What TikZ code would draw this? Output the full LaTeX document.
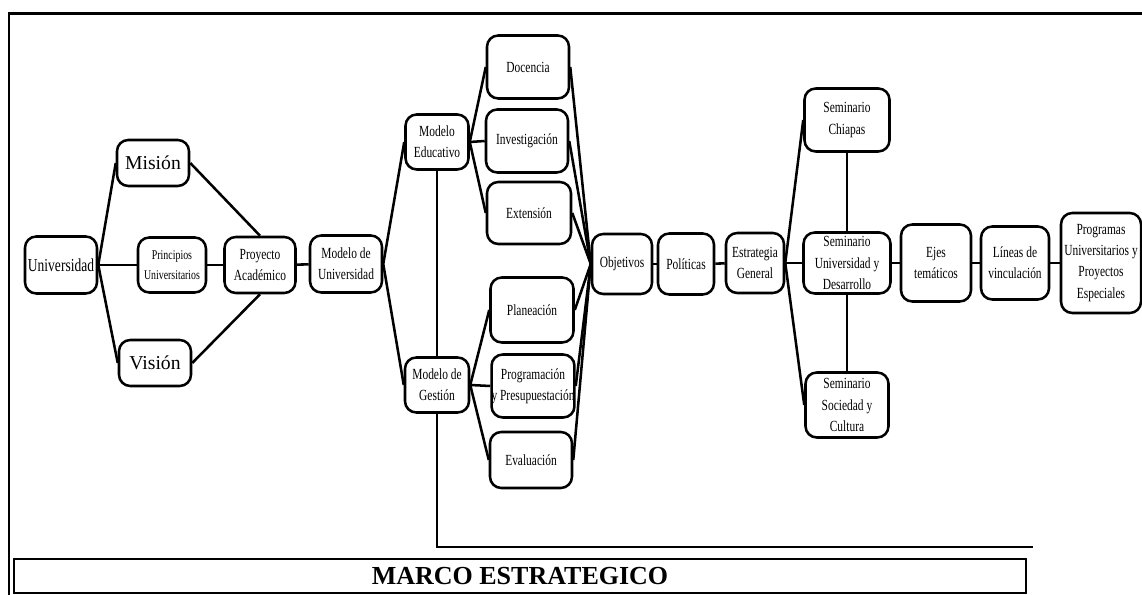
\documentclass[tikz,border=0pt]{standalone}
\usepackage{fontspec}
\setmainfont{Liberation Serif}[FakeStretch=0.74]
\newfontfamily\anchafont{Liberation Serif}
\begin{document}
\begin{tikzpicture}[line width=1.8pt,main box/.style={draw,rounded corners=8pt,align=center,inner sep=1pt,font=\fontsize{11}{15}\selectfont}]
        \useasboundingbox (0,0) rectangle (28.55,14.875);
        \draw[line width=2.1pt] (0.225,0) -- (0.225,14.54) -- (28.55,14.54);

        \node[main box, minimum width=1.8cm, minimum height=1.425cm, font=\fontsize{13}{15}\selectfont] at (1.525, 8.25) (univ) {Universidad};
        \node[main box, minimum width=1.8cm, minimum height=1.15cm, font=\anchafont\fontsize{14}{16}\selectfont] at (3.825, 10.8) (mision) {Misión};
        \node[main box, minimum width=1.8cm, minimum height=1.15cm, font=\anchafont\fontsize{14}{16}\selectfont] at (3.875, 5.8) (vision) {Visión};
        \node[main box, minimum width=1.7cm, minimum height=1.375cm, font=\fontsize{9.5}{14}\selectfont] at (4.3, 8.25) (principios) {Principios\\Universitarios};
        \node[main box, minimum width=1.775cm, minimum height=1.4cm] at (6.5, 8.25) (proyecto) {Proyecto\\Académico};
        \node[main box, minimum width=1.8cm, minimum height=1.425cm] at (8.65, 8.275) (modelouni) {Modelo de\\Universidad};
        \node[main box, minimum width=1.575cm, minimum height=1.375cm] at (10.925, 11.325) (educativo) {Modelo\\Educativo};
        \node[main box, minimum width=1.6cm, minimum height=1.375cm] at (10.925, 5.25) (gestion) {Modelo de\\Gestión};
        \node[main box, minimum width=2.05cm, minimum height=1.575cm] at (13.2, 13.2) (docencia) {Docencia};
        \node[main box, minimum width=2.05cm, minimum height=1.575cm] at (13.175, 11.35) (investigacion) {Investigación};
        \node[main box, minimum width=2.1cm, minimum height=1.55cm] at (13.225, 9.55) (extension) {Extensión};
        \node[main box, minimum width=2.075cm, minimum height=1.625cm] at (13.3, 7.125) (planeacion) {Planeación};
        \node[main box, minimum width=2.05cm, minimum height=1.575cm, inner sep=0pt] at (13.325, 5.225) (programacion) {Programación\\y Presupuestación};
        \node[main box, minimum width=2.05cm, minimum height=1.4cm] at (13.275, 3.375) (evaluacion) {Evaluación};
        \node[main box, minimum width=1.5cm, minimum height=1.5cm] at (15.55, 8.275) (objetivos) {Objetivos};
        \node[main box, minimum width=1.4cm, minimum height=1.525cm] at (17.15, 8.275) (politicas) {Políticas};
        \node[main box, minimum width=1.45cm, minimum height=1.5cm] at (18.875, 8.3) (estrategia) {Estrategia\\General};
        \node[main box, minimum width=2.125cm, minimum height=1.575cm] at (21.175, 11.875) (chiapas) {Seminario\\Chiapas};
        \node[main box, minimum width=2.175cm, minimum height=1.525cm, inner sep=0pt] at (21.175, 8.3) (unidesarrollo) {Seminario\\Universidad y\\Desarrollo};
        \node[main box, minimum width=2.075cm, minimum height=1.625cm, inner sep=0pt] at (21.175, 4.75) (sociedad) {Seminario\\Sociedad y\\Cultura};
        \node[main box, minimum width=1.75cm, minimum height=1.925cm] at (23.4, 8.3) (ejes) {Ejes\\temáticos};
        \node[main box, minimum width=1.7cm, minimum height=1.825cm] at (25.375, 8.3) (lineas) {Líneas de\\vinculación};
        \node[main box, minimum width=2.0cm, minimum height=2.5cm, inner sep=0pt] at (27.525, 8.3) (programas) {Programas\\Universitarios y\\Proyectos\\Especiales};

        \coordinate (esquina) at (25.825, 1.2);

        \path
            (univ.east) edge (mision.west)
            (univ.east) edge (vision.west)
            (univ) edge (principios)
            (principios) edge (proyecto)
            (mision.east) edge (proyecto.north)
            (vision.east) edge (proyecto.south)
            (proyecto) edge (modelouni)
            (modelouni.east) edge (educativo.west)
            (modelouni.east) edge (gestion.west)
            (educativo) edge (gestion)
            (educativo.east) edge (docencia.west)
            (educativo.east) edge (investigacion.west)
            (educativo.east) edge (extension.west)
            (gestion.east) edge (planeacion.west)
            (gestion.east) edge (programacion.west)
            (gestion.east) edge (evaluacion.west)
            (docencia.east) edge (objetivos.west)
            (investigacion.east) edge (objetivos.west)
            (extension.east) edge (objetivos.west)
            (planeacion.east) edge (objetivos.west)
            (programacion.east) edge (objetivos.west)
            (evaluacion.east) edge (objetivos.west)
            (objetivos) edge (politicas)
            (politicas) edge (estrategia)
            (estrategia.east) edge (chiapas.west)
            (estrategia.east) edge (unidesarrollo.west)
            (estrategia.east) edge (sociedad.west)
            (chiapas) edge (unidesarrollo)
            (unidesarrollo) edge (sociedad)
            (unidesarrollo) edge (ejes)
            (ejes) edge (lineas)
            (lineas) edge (programas)
            ;
        \draw (gestion.south) |- (esquina);

        \node[draw, line width=2.1pt, minimum width=25.3cm, minimum height=0.85cm, inner sep=0pt, font=\anchafont\bfseries\fontsize{18.5}{20}\selectfont] at (13.0, 0.475) (marco) {MARCO ESTRATEGICO};
\end{tikzpicture}
\end{document}
